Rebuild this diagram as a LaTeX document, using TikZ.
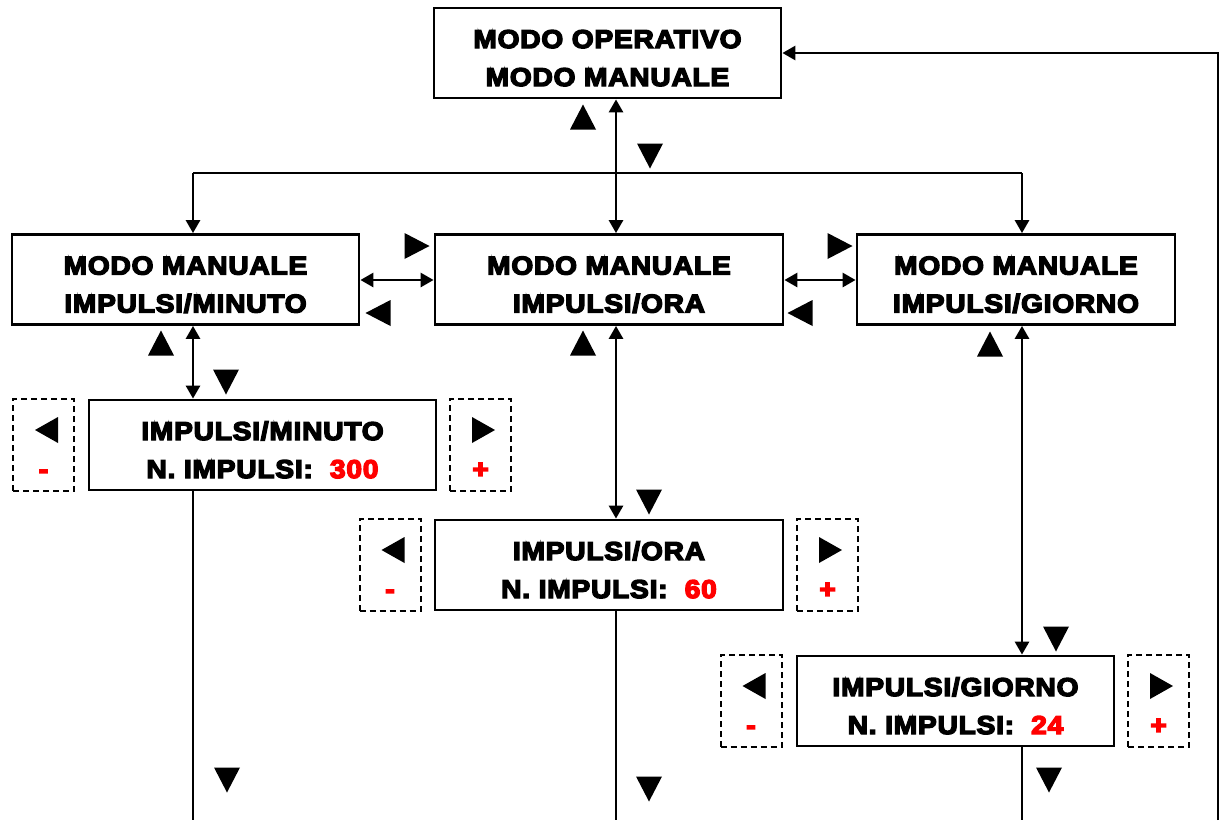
\documentclass[tikz,border=0pt]{standalone}
\usepackage{fontspec}
\newfontfamily\blk{Liberation Sans Bold}[FakeStretch=1.09,FakeBold=5.5,LetterSpace=3]
\usetikzlibrary{arrows.meta,calc}
\definecolor{vred}{RGB}{255,0,0}
\tikzset{
  box/.style={draw=black,line width=2.8pt,inner sep=0pt,minimum height=90pt},
  dbox/.style={draw=black,line width=2pt,dash pattern=on 6pt off 4pt,inner sep=0pt,minimum width=61pt,minimum height=92pt},
  lbl/.style={anchor=base,inner sep=0pt,font=\blk\fontsize{25.8}{29}\selectfont},
  sgn/.style={lbl,text=vred},
  ah/.tip={Triangle[length=13pt,width=14pt]},
  conn/.style={line width=2.8pt},
  dbl/.style={conn,ah-ah},
  one/.style={conn,-ah},
  tri/.pic={\fill (-13,12.5) -- (13,12.5) -- (0,-12.5) -- cycle;},
  stri/.pic={\fill (-13,11.5) -- (13,11.5) -- (0,-11.5) -- cycle;},
}
\newcommand\twolines[3]{%
  \node[lbl] (#1-a) at ($(#1.center)+(0,-5)$) {#2};
  \node[lbl] (#1-b) at ($(#1.center)+(0,33)$) {#3};}
\newcommand\decinc[2]{%
  \pic[rotate=90] at ($(#1.center)+(3,-15)$) {stri};
  \node[sgn] (#1-s) at ($(#1.center)+(0,33)$) {-};
  \pic[rotate=-90] at ($(#2.center)+(3,-15)$) {stri};
  \node[sgn] (#2-s) at ($(#2.center)+(0,33)$) {+};}
\begin{document}
\begin{tikzpicture}[x=1pt,y=-1pt]
\useasboundingbox (0,0) rectangle (1229,820);
% boxes
\node[box,minimum width=347pt] (top) at (607.5,53) {};
\node[box,minimum width=347pt] (mml) at (185.5,279.5) {};
\node[box,minimum width=348pt] (mmo) at (609,279.5) {};
\node[box,minimum width=318pt] (mmg) at (1016,279.5) {};
\node[box,minimum width=347pt] (minuto) at (262.5,445) {};
\node[box,minimum width=348pt] (ora) at (609,565) {};
\node[box,minimum width=317pt] (giorno) at (955.5,701) {};
% dashed key boxes
\node[dbox] (mdec) at (43.5,445) {};
\node[dbox] (minc) at (480.5,445) {};
\node[dbox] (odec) at (390,565) {};
\node[dbox] (oinc) at (827.5,565) {};
\node[dbox] (gdec) at (751,701) {};
\node[dbox] (ginc) at (1158.5,701) {};
% texts
\twolines{top}{MODO OPERATIVO}{MODO MANUALE}
\twolines{mml}{MODO MANUALE}{IMPULSI/MINUTO}
\twolines{mmo}{MODO MANUALE}{IMPULSI/ORA}
\twolines{mmg}{MODO MANUALE}{IMPULSI/GIORNO}
\twolines{minuto}{IMPULSI/MINUTO}{N. IMPULSI:~~\textcolor{vred}{300}}
\twolines{ora}{IMPULSI/ORA}{N. IMPULSI:~~\textcolor{vred}{60}}
\twolines{giorno}{IMPULSI/GIORNO}{N. IMPULSI:~~\textcolor{vred}{24}}
\decinc{mdec}{minc}
\decinc{odec}{oinc}
\decinc{gdec}{ginc}
% connector coordinates
\coordinate (xl) at (193,0);
\coordinate (xm) at (616,0);
\coordinate (xr) at (1022,0);
\coordinate (yh) at (0,280);
\coordinate (hl) at (193,173);
\coordinate (hr) at (1022,173);
\coordinate (b1) at (193,820);
\coordinate (b2) at (616,820);
\coordinate (b3) at (1022,820);
\coordinate (fb) at (1218,820);
% connectors
\draw[dbl] (top.south -| xm) -- (mmo.north -| xm);
\draw[conn] (hl) -- (hr);
\draw[one] (hl) -- (mml.north -| hl);
\draw[one] (hr) -- (mmg.north -| hr);
\draw[dbl] (mml.east |- yh) -- (mmo.west |- yh);
\draw[dbl] (mmo.east |- yh) -- (mmg.west |- yh);
\draw[dbl] (mml.south -| xl) -- (minuto.north -| xl);
\draw[dbl] (mmo.south -| xm) -- (ora.north -| xm);
\draw[dbl] (mmg.south -| xr) -- (giorno.north -| xr);
\draw[conn] (minuto.south -| xl) -- (b1);
\draw[conn] (ora.south -| xm) -- (b2);
\draw[conn] (giorno.south -| xr) -- (b3);
\draw[one] (fb) |- (top.east);
% key markers
\pic at (583,117) {tri};
\pic[rotate=180] at (650,156) {tri};
\pic[rotate=-90] at (417,246) {tri};
\pic[rotate=90] at (378,313) {tri};
\pic[rotate=-90] at (840,246) {tri};
\pic[rotate=90] at (800,313) {tri};
\pic at (161,343) {tri};
\pic[rotate=180] at (226,382) {tri};
\pic at (583,343) {tri};
\pic[rotate=180] at (649,502) {tri};
\pic at (990,344) {tri};
\pic[rotate=180] at (1056,639) {tri};
\pic[rotate=180] at (227,780) {tri};
\pic[rotate=180] at (649,789) {tri};
\pic[rotate=180] at (1049,780) {tri};
\end{tikzpicture}
\end{document}
